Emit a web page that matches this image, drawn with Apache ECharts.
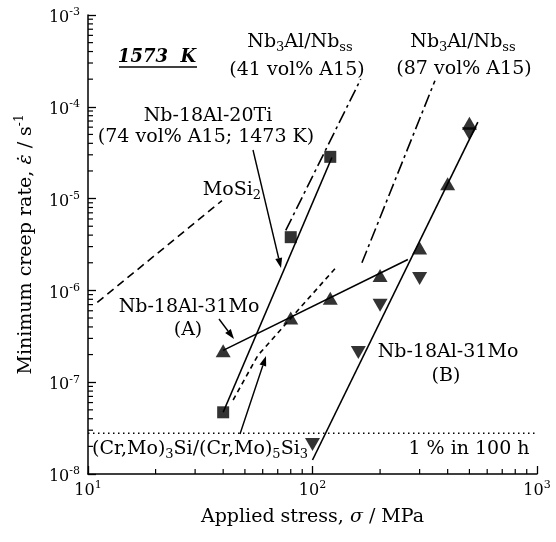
<!DOCTYPE html>
<html><head><meta charset="utf-8">
<script src="https://cdn.jsdelivr.net/npm/echarts@6/dist/echarts.min.js"></script>
<style>html,body{margin:0;padding:0;background:#fff}#c{width:556px;height:542px}</style>
</head><body><div id="c"></div>
<script>
// ---- data (stress in MPa, minimum creep rate in 1/s) ----
const stressTi = [40, 80, 120];
const rateTi = [4.7e-8, 3.8e-6, 2.85e-5];
const stressA = [40, 80, 120, 200, 300, 400, 500];
const rateA = [2.2e-7, 5.0e-7, 8.2e-7, 1.45e-6, 2.9e-6, 1.45e-5, 6.6e-5];
const stressB = [100, 160, 200, 300, 500];
const rateB = [2.1e-8, 2.1e-7, 6.9e-7, 1.35e-6, 5.1e-5];
// trend / literature lines
const fitTiStress = [40, 122];   const fitTiRate = [4.7e-8, 2.8e-5];
const fitAStress = [40, 266];    const fitARate = [2.22e-7, 2.17e-6];
const fitBStress = [100, 545];   const fitBRate = [1.42e-8, 6.8e-5];
const moSi2Stress = [11.0, 39.5]; const moSi2Rate = [7.4e-7, 9.5e-6];
const nb41Stress = [76, 164];    const nb41Rate = [4.5e-6, 2.0e-4];
const nb87Stress = [166, 351];   const nb87Rate = [2.0e-6, 1.92e-4];
const crMoStress = [44.3, 57.1, 126]; const crMoRate = [6.4e-8, 1.96e-7, 1.73e-6];
const limitStress = [10, 1000];  const limitRate = [2.78e-8, 2.78e-8];
// tick labels (exponents of 10)
const xTickExp = [1, 2, 3];
const yTickExp = [-8, -7, -6, -5, -4, -3];

const FONT = 'DejaVu Serif';
const zip = (a, b) => a.map((v, i) => [v, b[i]]);

const xMinor = [], yMinor = [];
for (let e = 1; e < 3; e++) for (let k = 2; k <= 9; k++) xMinor.push([k * Math.pow(10, e), 1e-8]);
for (let e = -8; e < -3; e++) for (let k = 2; k <= 9; k++) yMinor.push([10, k * Math.pow(10, e)]);

const chart = echarts.init(document.getElementById('c'), null, {renderer: 'canvas'});

function lineSeries(data, type, width) {
  return {type: 'line', data: data, showSymbol: false, symbol: 'none', silent: true, z: 2,
    lineStyle: {color: '#000', width: width || 1.6, type: type || 'solid'}};
}
function expLabel(v) {
  const e = Math.round(Math.log10(v));
  return '{b|10}{sup|' + (e < 0 ? '-' + (-e) : e) + '}';
}

const option = {
  backgroundColor: '#fff',
  animation: false,
  grid: {left: 88, right: 19, top: 15, bottom: 68},
  xAxis: {
    type: 'log', logBase: 10, min: 10, max: 1000,
    axisLine: {lineStyle: {color: '#000', width: 1.5}},
    axisTick: {inside: true, length: 8, lineStyle: {color: '#000', width: 1.3}},
    splitLine: {show: false},
    axisLabel: {
      margin: 6, color: '#000',
      formatter: v => xTickExp.indexOf(Math.round(Math.log10(v))) >= 0 ? expLabel(v) : '',
      rich: {
        b: {fontFamily: FONT, fontSize: 16, lineHeight: 22, color: '#000'},
        sup: {fontFamily: FONT, fontSize: 11, lineHeight: 11, verticalAlign: 'top', color: '#000'}
      }
    },
    name: '{t|Applied stress, }{i|σ}{t| / MPa}',
    nameLocation: 'middle', nameGap: 34,
    nameTextStyle: {rich: {
      t: {fontFamily: FONT, fontSize: 19, color: '#000'},
      i: {fontFamily: FONT, fontSize: 19, fontStyle: 'italic', color: '#000'}
    }}
  },
  yAxis: {
    type: 'log', logBase: 10, min: 1e-8, max: 1e-3,
    axisLine: {lineStyle: {color: '#000', width: 1.5}},
    axisTick: {inside: true, length: 8, lineStyle: {color: '#000', width: 1.3}},
    splitLine: {show: false},
    axisLabel: {
      margin: 8, color: '#000', padding: [6, 0, 0, 0],
      formatter: v => yTickExp.indexOf(Math.round(Math.log10(v))) >= 0 ? expLabel(v) : '',
      rich: {
        b: {fontFamily: FONT, fontSize: 16, lineHeight: 22, color: '#000'},
        sup: {fontFamily: FONT, fontSize: 11, lineHeight: 11, verticalAlign: 'top', color: '#000'}
      }
    },
    name: '{t|Minimum creep rate, }{i|ε\u0307}{t| / s}{sup|-1}',
    nameLocation: 'middle', nameGap: 50, nameRotate: 90,
    nameTextStyle: {rich: {
      t: {fontFamily: FONT, fontSize: 19, lineHeight: 24, color: '#000'},
      i: {fontFamily: FONT, fontSize: 19, lineHeight: 24, fontStyle: 'italic', color: '#000'},
      sup: {fontFamily: FONT, fontSize: 12, lineHeight: 12, verticalAlign: 'top', color: '#000'}
    }}
  },
  series: [
    lineSeries(zip(limitStress, limitRate), [1.5, 3.5], 1.3),
    lineSeries(zip(moSi2Stress, moSi2Rate), [8, 5]),
    lineSeries(zip(nb41Stress, nb41Rate), [13, 4, 3, 4]),
    lineSeries(zip(nb87Stress, nb87Rate), [13, 4, 3, 4]),
    lineSeries(zip(crMoStress, crMoRate), [5, 4]),
    lineSeries(zip(fitTiStress, fitTiRate)),
    lineSeries(zip(fitAStress, fitARate)),
    lineSeries(zip(fitBStress, fitBRate)),
    {type: 'scatter', data: zip(stressTi, rateTi), symbol: 'rect', symbolSize: 12, z: 5,
      itemStyle: {color: '#000'}},
    {type: 'scatter', data: zip(stressA, rateA), symbol: 'triangle', symbolSize: [15, 13], z: 5,
      itemStyle: {color: '#000'}},
    {type: 'scatter', data: zip(stressB, rateB), symbol: 'triangle', symbolRotate: 180, symbolSize: [15, 13], z: 5,
      itemStyle: {color: '#000'}},
    {type: 'custom', data: xMinor, silent: true, z: 3, clip: false,
      renderItem: (params, api) => {
        const p = api.coord([api.value(0), api.value(1)]);
        return {type: 'line', shape: {x1: p[0], y1: p[1], x2: p[0], y2: p[1] - 5},
          style: {stroke: '#000', lineWidth: 1.2}};
      }},
    {type: 'custom', data: yMinor, silent: true, z: 3, clip: false,
      renderItem: (params, api) => {
        const p = api.coord([api.value(0), api.value(1)]);
        return {type: 'line', shape: {x1: p[0], y1: p[1], x2: p[0] + 5, y2: p[1]},
          style: {stroke: '#000', lineWidth: 1.2}};
      }}
  ]
};
chart.setOption(option);

// ---- annotations (pixel layout) ----
const richBase = {
  b: {fontFamily: FONT, fontSize: 19, lineHeight: 24, color: '#000'},
  sub: {fontFamily: FONT, fontSize: 13, lineHeight: 9, verticalAlign: 'bottom', color: '#000'}
};
const texts = [
  ['{b|Nb}{sub|3}{b|Al/Nb}{sub|ss}', 300, 42],
  ['{b|(41 vol% A15)}', 297, 70],
  ['{b|Nb}{sub|3}{b|Al/Nb}{sub|ss}', 463, 42],
  ['{b|(87 vol% A15)}', 464, 69],
  ['{b|Nb-18Al-20Ti}', 208, 116],
  ['{b|(74 vol% A15; 1473 K)}', 206, 137],
  ['{b|MoSi}{sub|2}', 232, 190],
  ['{b|Nb-18Al-31Mo}', 189, 307],
  ['{b|(A)}', 188, 330],
  ['{b|Nb-18Al-31Mo}', 448, 352],
  ['{b|(B)}', 446, 376],
  ['{b|(Cr,Mo)}{sub|3}{b|Si/(Cr,Mo)}{sub|5}{b|Si}{sub|3}', 200, 449],
  ['{b|1 % in 100 h}', 469, 449]
];
const graphics = texts.map(t => ({
  type: 'text', x: t[1], y: t[2], z: 20,
  style: {text: t[0], rich: richBase, align: 'center', verticalAlign: 'middle', fill: '#000'}
}));
graphics.push({type: 'text', x: 157, y: 57, z: 20,
  style: {text: '1573  K', fontFamily: FONT, fontSize: 18, fontStyle: 'italic', fontWeight: 'bold',
    align: 'center', verticalAlign: 'middle', fill: '#000'}});
graphics.push({type: 'line', z: 20, shape: {x1: 119, y1: 67, x2: 197, y2: 67}, style: {stroke: '#000', lineWidth: 1.5}});

function arrow(x1, y1, x2, y2) {
  const a = Math.atan2(y2 - y1, x2 - x1), L = 10, W = 3.5;
  const bx = x2 - L * Math.cos(a), by = y2 - L * Math.sin(a);
  const nx = -Math.sin(a) * W, ny = Math.cos(a) * W;
  graphics.push({type: 'line', z: 20, shape: {x1: x1, y1: y1, x2: bx, y2: by}, style: {stroke: '#000', lineWidth: 1.4}});
  graphics.push({type: 'polygon', z: 20, shape: {points: [[x2, y2], [bx + nx, by + ny], [bx - nx, by - ny]]}, style: {fill: '#000'}});
}
arrow(253, 150, 281, 268);
arrow(219, 319, 234, 339);
arrow(240, 434, 266, 356);

chart.setOption({graphic: graphics});
</script></body></html>
